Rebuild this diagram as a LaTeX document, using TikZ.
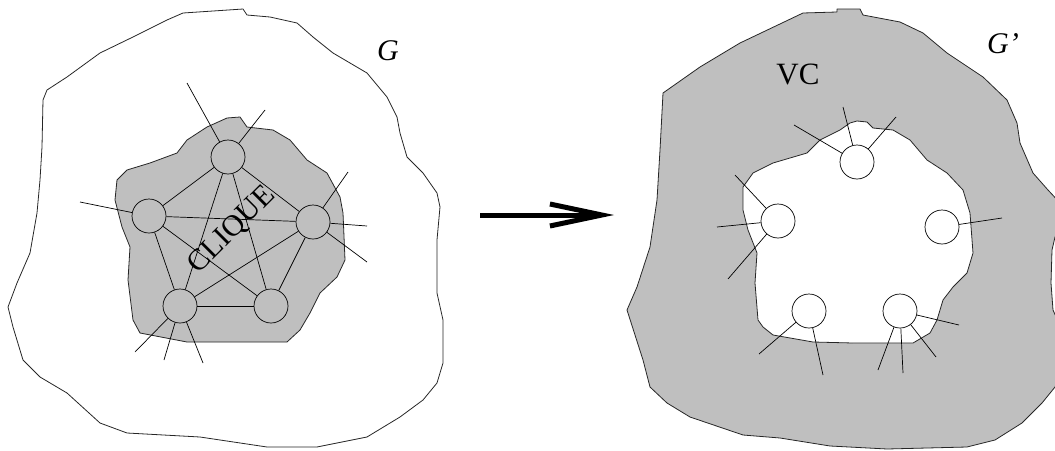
\documentclass[tikz,border=0pt]{standalone}
\usepackage{fontspec}
\setmainfont{Liberation Serif}
\usetikzlibrary{arrows.meta}
\definecolor{shade}{RGB}{191,191,191}

\begin{document}
\begin{tikzpicture}[
  x=1pt, y=-1pt,
  blob/.style={draw=black!85, line width=0.8pt, line join=round},
  vtx/.style={circle, draw=black, line width=0.7pt, minimum size=34pt, inner sep=0pt},
  gvtx/.style={vtx, fill=shade},
  wvtx/.style={vtx, fill=white},
  edge/.style={line width=0.7pt},
  bigarr/.style={-{Straight Barb[length=52pt, width=22pt, line width=5pt]}, line width=5pt},
  lab/.style={font=\fontsize{31}{31}\selectfont, inner sep=0pt},
  glab/.style={font=\fontsize{30}{30}\selectfont\itshape, inner sep=0pt},
]
\useasboundingbox (0,0) rectangle (1055,450);
\clip (0,0) rectangle (1055,450);

%% ---------- left: G with the clique ----------
\draw[blob, fill=white] (183,13) -- (243,9) -- (247,15) -- (270,17) -- (297,23) -- (313,37)
  -- (333,53) -- (367,73) -- (387,97) -- (397,117) -- (400,133) -- (407,157) -- (423,173)
  -- (437,193) -- (440,207) -- (437,240) -- (437,267) -- (437,293) -- (443,320) -- (443,363)
  -- (437,383) -- (423,400) -- (400,417) -- (367,437) -- (317,447) -- (267,447) -- (200,437)
  -- (127,433) -- (100,423) -- (67,393) -- (40,377) -- (23,360) -- (13,327) -- (8,307)
  -- (17,283) -- (30,253) -- (37,213) -- (40,180) -- (42,147) -- (43,100) -- (47,90)
  -- (67,77) -- (100,53) -- (133,37) -- (167,20) -- cycle;

\draw[blob, fill=shade] (227,118) -- (240,117) -- (247,127) -- (273,130) -- (290,140)
  -- (307,160) -- (327,173) -- (340,197) -- (343,213) -- (345,260) -- (337,277) -- (320,293)
  -- (310,313) -- (300,330) -- (287,342) -- (187,342) -- (140,333) -- (133,320) -- (128,280)
  -- (130,247) -- (122,227) -- (115,200) -- (117,180) -- (127,170) -- (150,163) -- (177,153)
  -- (187,140) -- (207,127) -- cycle;

\node[lab, font=\fontsize{30}{30}\selectfont, rotate=45] (clq) at (232,230) {CLIQUE};

\node[gvtx] (vt) at (228,157) {};
\node[gvtx] (vl) at (149,216) {};
\node[gvtx] (vr) at (313,222) {};
\node[gvtx] (vbl) at (180,306) {};
\node[gvtx] (vbr) at (271,306) {};

%% clique edges
\foreach \a/\b in {vt/vl, vt/vr, vt/vbl, vt/vbr, vl/vr, vl/vbl, vl/vbr, vr/vbl, vr/vbr, vbl/vbr}
  \draw[edge] (\a) -- (\b);

%% edges leaving the clique
\foreach \n/\x/\y in {lt1/187/83, lt2/265/110, ll1/80/202, lr1/348/172, lr2/367/226,
    lr3/367/262, lb1/135/352, lb2/164/360, lb3/203/363}
  \coordinate (\n) at (\x,\y);
\foreach \a/\b in {vt/lt1, vt/lt2, vl/ll1, vr/lr1, vr/lr2, vr/lr3, vbl/lb1, vbl/lb2, vbl/lb3}
  \draw[edge] (\a) -- (\b);

\node[glab] (gname) at (388,51) {G};

%% ---------- arrow ----------
\coordinate (arrS) at (480,215);
\coordinate (arrE) at (614,215);
\draw[bigarr] (arrS) -- (arrE);

%% ---------- right: G' with the vertex cover ----------
\draw[blob, fill=shade] (803,13) -- (837,12) -- (837,9) -- (860,9) -- (863,15) -- (900,22)
  -- (923,33) -- (947,53) -- (983,77) -- (1007,100) -- (1017,123) -- (1020,143) -- (1033,173)
  -- (1048,190) -- (1062,205) -- (1066,225) -- (1055,237) -- (1052,250) -- (1051,283)
  -- (1053,310) -- (1062,330) -- (1066,360) -- (1055,387) -- (1042,403) -- (1022,423)
  -- (995,440) -- (967,447) -- (887,449) -- (830,446) -- (780,438) -- (743,435) -- (690,417)
  -- (667,403) -- (650,387) -- (643,360) -- (627,310) -- (637,287) -- (650,247) -- (657,200)
  -- (660,150) -- (663,93) -- (700,67) -- (740,43) -- cycle;

\draw[blob, fill=white] (857,121) -- (867,122) -- (873,128) -- (893,130) -- (910,140)
  -- (927,160) -- (947,173) -- (963,190) -- (970,213) -- (973,253) -- (967,273) -- (953,287)
  -- (943,300) -- (937,320) -- (930,333) -- (913,343) -- (853,343) -- (813,342) -- (773,335)
  -- (763,327) -- (758,320) -- (755,283) -- (757,253) -- (748,230) -- (743,210) -- (743,187)
  -- (753,173) -- (773,163) -- (807,153) -- (820,140) -- (840,130) -- (850,123) -- cycle;

\node[wvtx] (wt) at (857,162) {};
\node[wvtx] (wl) at (778,221) {};
\node[wvtx] (wr) at (942,227) {};
\node[wvtx] (wbl) at (809,311) {};
\node[wvtx] (wbr) at (900,311) {};

%% edges into the cover
\foreach \n/\x/\y in {rt1/794/125, rt2/843/107, rt3/896/117, rl1/735/175, rl2/717/227,
    rl3/728/279, rr1/1002/218, rb1/759/354, rb2/823/375, rc1/959/325, rc2/936/357,
    rc3/903/373, rc4/878/370}
  \coordinate (\n) at (\x,\y);
\foreach \a/\b in {wt/rt1, wt/rt2, wt/rt3, wl/rl1, wl/rl2, wl/rl3, wr/rr1, wbl/rb1, wbl/rb2,
    wbr/rc1, wbr/rc2, wbr/rc3, wbr/rc4}
  \draw[edge] (\a) -- (\b);

\node[lab] (vc) at (798,74) {VC};
\node[glab] (gpname) at (1003,44) {G’};

\end{tikzpicture}
\end{document}
